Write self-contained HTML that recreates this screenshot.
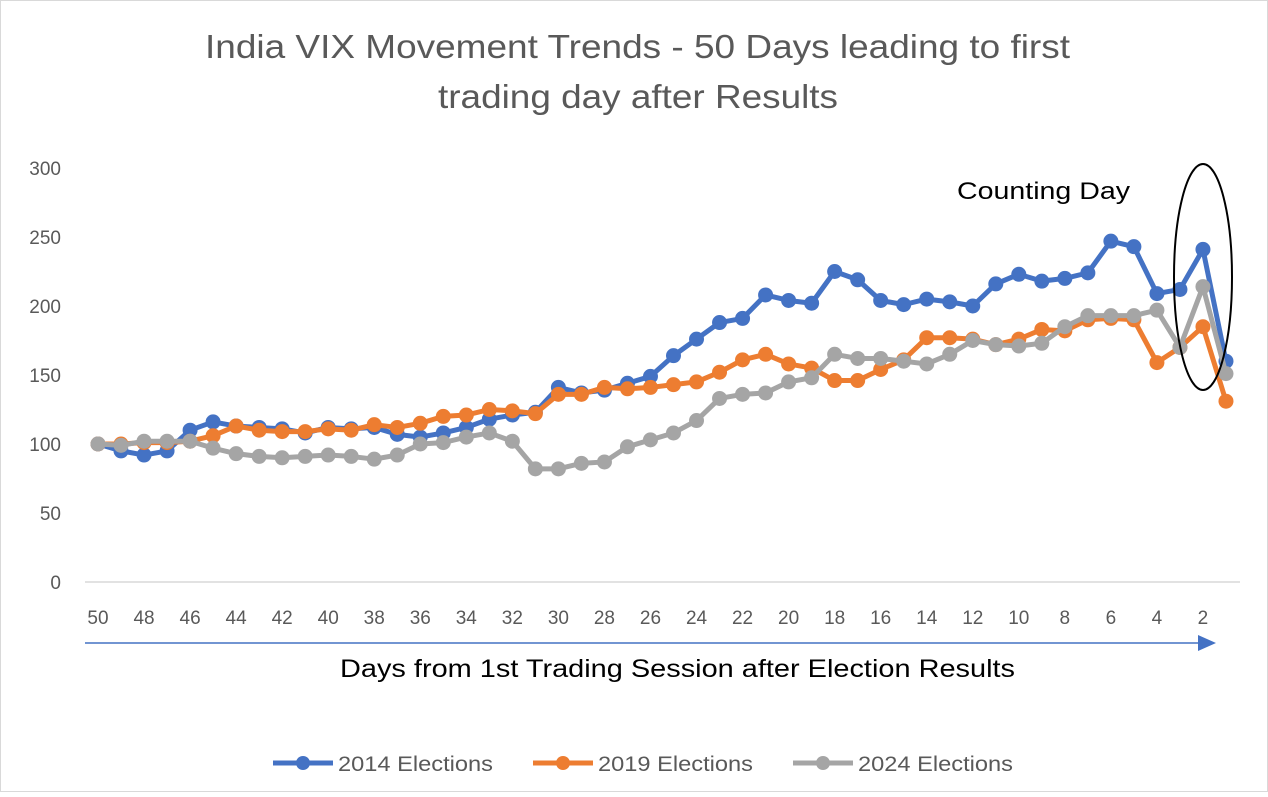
<!DOCTYPE html>
<html><head><meta charset="utf-8"><style>
body{margin:0;background:#fff;font-family:"Liberation Sans",sans-serif}
</style></head><body>
<svg width="1268" height="792" xmlns="http://www.w3.org/2000/svg" font-family="Liberation Sans, sans-serif">
<rect x="0.5" y="0.5" width="1267" height="791" fill="#fff" stroke="#d9d9d9"/>
<text x="205" y="58" textLength="865" lengthAdjust="spacingAndGlyphs" font-size="33" fill="#595959">India VIX Movement Trends - 50 Days leading to first</text>
<text x="438" y="108" textLength="400" lengthAdjust="spacingAndGlyphs" font-size="33" fill="#595959">trading day after Results</text>
<g id="yaxis"></g>
<g id="xaxis"></g>
<line x1="85" y1="643" x2="1205" y2="643" stroke="#4472c4" stroke-width="1.5"/>
<polygon points="1198,635 1216,643 1198,651" fill="#4472c4"/>
<text x="340" y="677" textLength="675" lengthAdjust="spacingAndGlyphs" font-size="25" fill="#000">Days from 1st Trading Session after Election Results</text>
<g id="series"></g>
<text x="957" y="199" textLength="173" lengthAdjust="spacingAndGlyphs" font-size="24" fill="#000">Counting Day</text>
<ellipse cx="1203" cy="277" rx="29" ry="113" fill="none" stroke="#000" stroke-width="2"/>
<g>
<g><line x1="273" y1="763" x2="333" y2="763" stroke="#4472c4" stroke-width="5"/><circle cx="303" cy="763" r="7" fill="#4472c4"/><text x="338" y="771" textLength="155" lengthAdjust="spacingAndGlyphs" font-size="21" fill="#595959">2014 Elections</text></g>
<g><line x1="533" y1="763" x2="593" y2="763" stroke="#ed7d31" stroke-width="5"/><circle cx="563" cy="763" r="7" fill="#ed7d31"/><text x="598" y="771" textLength="155" lengthAdjust="spacingAndGlyphs" font-size="21" fill="#595959">2019 Elections</text></g>
<g><line x1="793" y1="763" x2="853" y2="763" stroke="#a5a5a5" stroke-width="5"/><circle cx="823" cy="763" r="7" fill="#a5a5a5"/><text x="858" y="771" textLength="155" lengthAdjust="spacingAndGlyphs" font-size="21" fill="#595959">2024 Elections</text></g>
</g>
</svg>
<script>
const days=[50,49,48,47,46,45,44,43,42,41,40,39,38,37,36,35,34,33,32,31,30,29,28,27,26,25,24,23,22,21,20,19,18,17,16,15,14,13,12,11,10,9,8,7,6,5,4,3,2,1];
const s2014=[100,95,92,95,110,116,113,112,111,108,112,111,112,107,105,108,112,118,121,123,141,137,139,144,149,164,176,188,191,208,204,202,225,219,204,201,205,203,200,216,223,218,220,224,247,243,209,212,241,160];
const s2019=[100,100,101,101,102,106,113,110,109,109,111,110,114,112,115,120,121,125,124,122,136,136,141,140,141,143,145,152,161,165,158,155,146,146,154,161,177,177,176,172,176,183,182,190,191,190,159,170,185,131];
const s2024=[100,99,102,102,102,97,93,91,90,91,92,91,89,92,100,101,105,108,102,82,82,86,87,98,103,108,117,133,136,137,145,148,165,162,162,160,158,165,175,172,171,173,185,193,193,193,197,170,214,151];
const yTicks=[0,50,100,150,200,250,300];
const xTickLabels=[50,48,46,44,42,40,38,36,34,32,30,28,26,24,22,20,18,16,14,12,10,8,6,4,2];
const NS="http://www.w3.org/2000/svg";
const xS=d=>98+(50-d)*23.02;
const yS=v=>582-v*1.38;
function mk(t,a,p){const e=document.createElementNS(NS,t);for(const k in a)e.setAttribute(k,a[k]);p.appendChild(e);return e;}
const ya=document.getElementById('yaxis');
yTicks.forEach(v=>{const t=mk('text',{x:61,y:yS(v)+7,'text-anchor':'end','font-size':19,fill:'#595959'},ya);t.textContent=v;

});
const xa=document.getElementById('xaxis');
const al=mk('line',{x1:85,y1:582,x2:1240,y2:582,stroke:'#d9d9d9','stroke-width':1.5},xa);


xTickLabels.forEach(d=>{const t=mk('text',{x:xS(d),y:624,'text-anchor':'middle','font-size':19,fill:'#595959'},xa);t.textContent=d;

});
const sg=document.getElementById('series');
[[s2014,'#4472c4','2014'],[s2019,'#ed7d31','2019'],[s2024,'#a5a5a5','2024']].forEach(([vals,c,n])=>{
const g=mk('g',{},sg);


const pl=mk('polyline',{points:vals.map((v,i)=>xS(days[i])+','+yS(v)).join(' '),fill:'none',stroke:c,'stroke-width':5,'stroke-linejoin':'round'},g);


vals.forEach((v,i)=>{const ci=mk('circle',{cx:xS(days[i]),cy:yS(v),r:7.5,fill:c},g);

});
});
</script>
</body></html>
